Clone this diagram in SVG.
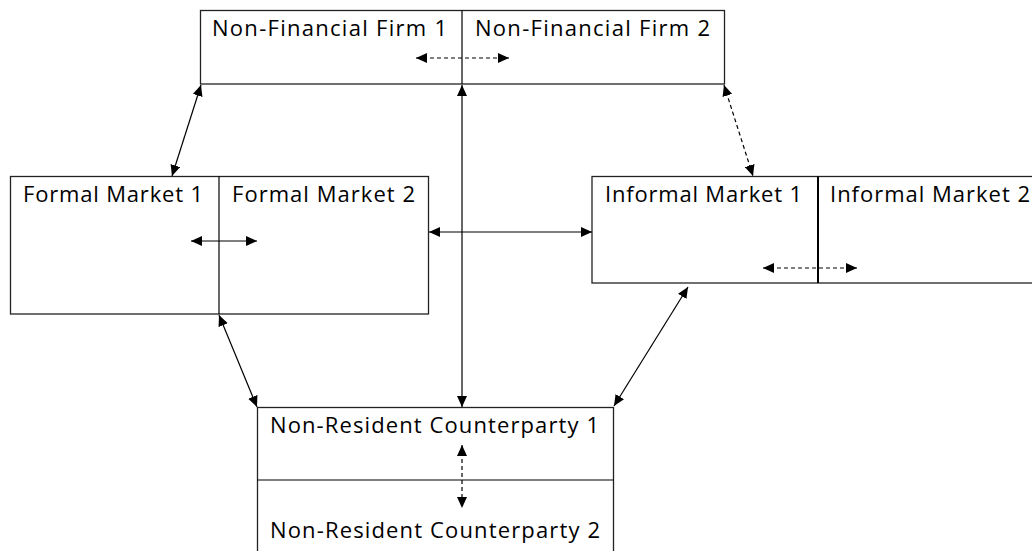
<svg xmlns="http://www.w3.org/2000/svg" width="1032" height="551" viewBox="0 0 1032 551">
<style>
.box{fill:#fff;stroke:#222;stroke-width:1.3}
.div{stroke:#000;stroke-width:1.2;fill:none}
.lbl{font-family:"Open Sans","Noto Sans",sans-serif;font-size:22px;fill:#000}
.c{stroke:#000;stroke-width:1.2;fill:none;marker-start:url(#ah);marker-end:url(#ah)}
.d{stroke-dasharray:4 3}
</style>
<defs>
<marker id="ah" markerUnits="userSpaceOnUse" markerWidth="11" markerHeight="10" refX="11" refY="5" orient="auto-start-reverse">
<path d="M0,0 L11,5 L0,10 z" fill="#000"/>
</marker>
</defs>
<g id="nonfin">
<rect class="box" x="200.5" y="10.5" width="524" height="73.5"/>
<line class="div" x1="462" y1="10.5" x2="462" y2="84"/>
<text class="lbl" x="212" y="36" textLength="235" lengthAdjust="spacing">Non-Financial Firm 1</text>
<text class="lbl" x="475" y="36" textLength="235" lengthAdjust="spacing">Non-Financial Firm 2</text>
</g>
<g id="formal">
<rect class="box" x="10.5" y="176.5" width="418" height="137.5"/>
<line class="div" x1="219" y1="176.5" x2="219" y2="314"/>
<text class="lbl" x="23" y="202" textLength="180" lengthAdjust="spacing">Formal Market 1</text>
<text class="lbl" x="232" y="202" textLength="183" lengthAdjust="spacing">Formal Market 2</text>
</g>
<g id="informal">
<rect class="box" x="592" y="176.5" width="460" height="106.5"/>
<line x1="818" y1="176.5" x2="818" y2="283" stroke="#000" stroke-width="2"/>
<text class="lbl" x="605" y="202" textLength="197" lengthAdjust="spacing">Informal Market 1</text>
<text class="lbl" x="830" y="202" textLength="200" lengthAdjust="spacing">Informal Market 2</text>
</g>
<g id="nonres">
<rect class="box" x="257.5" y="407.5" width="356" height="160"/>
<line class="div" x1="257.5" y1="480" x2="613.5" y2="480"/>
<text class="lbl" x="270" y="433" textLength="329" lengthAdjust="spacing">Non-Resident Counterparty 1</text>
<text class="lbl" x="270" y="538" textLength="330" lengthAdjust="spacing">Non-Resident Counterparty 2</text>
</g>
<g id="connectors">
<line class="c d" x1="416" y1="58" x2="509" y2="58"/>
<line class="c" x1="191" y1="241" x2="257" y2="241"/>
<line class="c d" x1="763" y1="268" x2="857" y2="268"/>
<line class="c d" x1="462" y1="445" x2="462" y2="508"/>
<line class="c" x1="462" y1="85" x2="462" y2="407"/>
<line class="c" x1="201" y1="85" x2="172" y2="176"/>
<line class="c d" x1="724" y1="85" x2="753" y2="176"/>
<line class="c" x1="429" y1="232" x2="592" y2="232"/>
<line class="c" x1="219" y1="315" x2="257" y2="407"/>
<line class="c" x1="688" y1="287" x2="614" y2="406"/>
</g>
</svg>
